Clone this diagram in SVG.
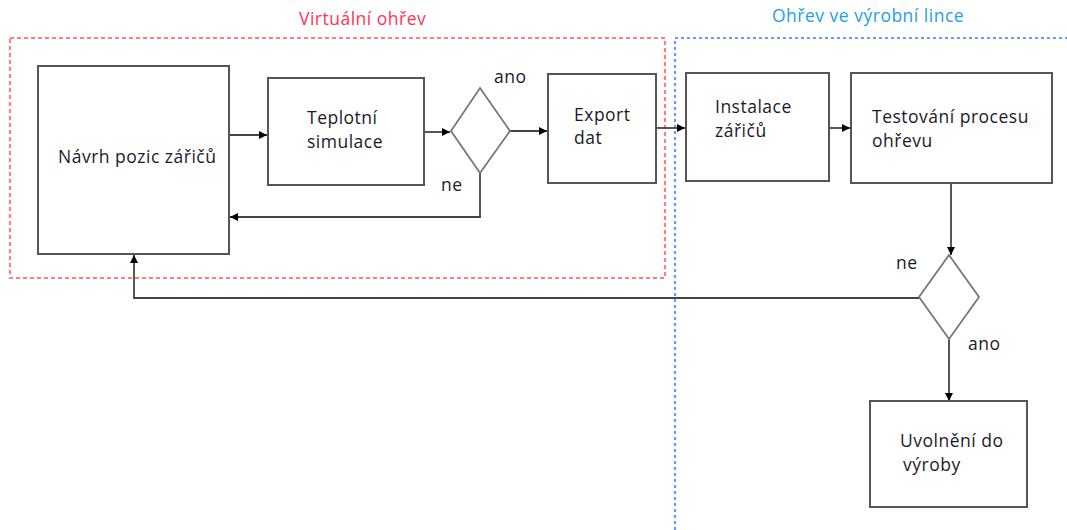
<svg xmlns="http://www.w3.org/2000/svg" width="1067" height="530" viewBox="0 0 1067 530">
<defs>
<marker id="ah" markerWidth="10" markerHeight="10" refX="9" refY="5" orient="auto" markerUnits="userSpaceOnUse">
<path d="M1,1 L9,5 L1,9 Z" fill="#000"/>
</marker>
<style>
.box{fill:#fff;stroke:#555;stroke-width:2}
.dia{fill:#fff;stroke:#777;stroke-width:1.8}
.t{font-family:"Open Sans","Liberation Sans",sans-serif;font-size:17.5px;letter-spacing:0.5px;fill:#1a1a2a}
.h{font-family:"Open Sans","Liberation Sans",sans-serif;font-size:17.5px;letter-spacing:0.5px}
.c{fill:none;stroke:#444;stroke-width:1.8}
.a{marker-end:url(#ah)}
</style>
</defs>
<rect width="1067" height="530" fill="#fff"/>
<g id="zone-virtual">
<rect x="10" y="38" width="655" height="240" fill="none" stroke="#ff7f7f" stroke-width="2.2" stroke-dasharray="4,3"/>
<text class="h" x="299" y="25" fill="#ff3355">Virtuální ohřev</text>
</g>
<g id="zone-line">
<path d="M675,530 L675,38 L1067,38" fill="none" stroke="#6a9cff" stroke-width="2.2" stroke-dasharray="3,3"/>
<text class="h" x="772" y="22" fill="#22a0e8">Ohřev ve výrobní lince</text>
</g>
<g id="connectors">
<path class="c a" d="M229,135 L267,135"/>
<path class="c a" d="M424,132 L450,132"/>
<path class="c a" d="M510,131 L547,131"/>
<path class="c a" d="M480,173 L480,217 L230,217"/>
<path class="c a" d="M656,128 L685,128"/>
<path class="c a" d="M829,128 L850,128"/>
<path class="c a" d="M951,183 L951,255"/>
<path class="c a" d="M919,298 L134,298 L134,255"/>
<path class="c a" d="M949,339 L949,401"/>
<text class="t" x="494" y="83">ano</text>
<text class="t" x="441" y="191">ne</text>
<text class="t" x="896" y="269">ne</text>
<text class="t" x="968" y="350">ano</text>
</g>
<g id="n-navrh">
<rect class="box" x="38" y="66" width="191" height="188"/>
<text class="t" x="58" y="163">Návrh pozic zářičů</text>
</g>
<g id="n-teplotni">
<rect class="box" x="268" y="78" width="156" height="107"/>
<text class="t" x="307" y="124">Teplotní</text>
<text class="t" x="307" y="148">simulace</text>
</g>
<g id="d-1">
<polygon class="dia" points="480,88 510,131 480,173 451,131"/>
</g>
<g id="n-export">
<rect class="box" x="548" y="74" width="108" height="109"/>
<text class="t" x="574" y="121">Export</text>
<text class="t" x="574" y="144">dat</text>
</g>
<g id="n-instalace">
<rect class="box" x="686" y="73" width="143" height="108"/>
<text class="t" x="715" y="113">Instalace</text>
<text class="t" x="715" y="137">zářičů</text>
</g>
<g id="n-testovani">
<rect class="box" x="851" y="73" width="201" height="110"/>
<text class="t" x="872" y="123">Testování procesu</text>
<text class="t" x="872" y="147">ohřevu</text>
</g>
<g id="d-2">
<polygon class="dia" points="949,255 979,297 949,339 919,297"/>
</g>
<g id="n-uvolneni">
<rect class="box" x="870" y="401" width="157" height="106"/>
<text class="t" x="900" y="447">Uvolnění do</text>
<text class="t" x="903" y="471">výroby</text>
</g>
</svg>
